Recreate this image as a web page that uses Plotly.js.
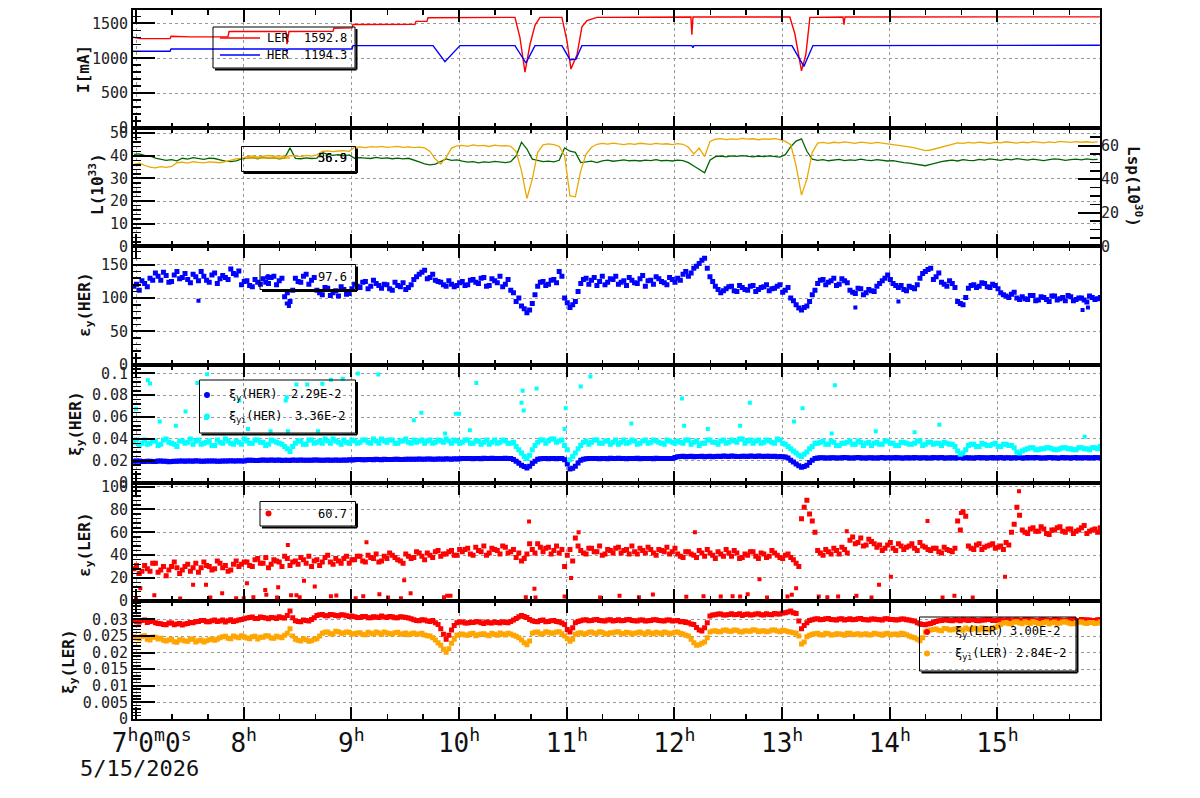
<!DOCTYPE html>
<html><head><meta charset="utf-8">
<script src="https://cdn.plot.ly/plotly-3.0.1.min.js"></script>
<style>html,body{margin:0;padding:0;background:#fff}#c{width:1200px;height:798px}</style>
</head><body><div id="c"></div>
<script>
// ---------------- DATA (time in hours of 5/15/2026) ----------------
const T0 = 6.98, DT = 0.05; // read-off grid: 3 min; "b" samples lie half a step later

// Panel 1: beam currents [mA] (keyframes)
const LER_t = [6.972,7.04,7.316,7.325,7.50,7.854,7.864,8.393,8.402,8.42,8.829,8.838,9.006,9.015,9.59,9.60,9.702,9.711,10.519,10.565,10.612,10.659,10.705,10.751,10.955,11.002,11.039,11.095,11.141,11.188,11.28,12.153,12.162,12.172,13.072,13.118,13.18,13.22,13.258,13.565,13.574,13.584,15.951];
const LER_v = [1300,1280,1280,1315,1305,1305,1382,1382,1200,1382,1385,1430,1435,1482,1485,1528,1530,1580,1585,1300,800,1200,1470,1585,1585,1250,845,1050,1450,1540,1585,1590,1335,1590,1590,1350,820,1050,1585,1590,1480,1590,1592];
const HER_t = [6.972,7.316,7.325,8.393,8.402,8.411,9.006,9.015,9.758,9.869,10.008,10.519,10.621,10.705,10.955,11.03,11.085,11.141,12.162,12.172,12.181,13.091,13.202,13.286,15.951];
const HER_v = [1100,1100,1133,1133,1100,1133,1133,1181,1181,950,1181,1181,932,1181,1181,979,985,1181,1181,1150,1181,1181,883,1181,1185];

// Panel 2: luminosity L (left axis) and Lsp (right axis)
const L_v = [40.6,40.8,40.2,39.9, 39.0,38.6,38.0,38.3,37.8,
 38.9,38.5,39.2,38.7,38.4,39.0,38.8,38.2,37.6,37.4,
 37.8,38.6,38.9,39.2,38.7,39.4,38.9,39.1,38.6,39.0,
 43.5, 38.9,38.7,39.1,38.8,39.0, 41.5, 40.6,40.2,40.5,40.0,40.4,
 38.9,39.2,39.0,38.8,39.3,38.9,39.1,38.7,39.0,38.6,38.9,
 38.2,37.3,36.4,36.0,36.3,37.4,
 38.6,38.0,38.2,37.6,37.2,37.4,36.9,37.3,37.1,37.5,37.2,37.0,37.4,
 40.0,46.0,43.0,38.5, 37.8,37.4,37.6,37.3, 38.0,43.5,42.0,41.5,37.0,
 37.2,37.6,37.0,37.8,38.1,37.6,37.9,38.2,37.8,38.0,37.7,38.1,37.9,38.3,37.8,38.0,37.7,38.1,37.9,
 37.0,35.5,34.0,32.5,38.0,
 39.6,39.9,39.5,40.0,39.7,40.1,39.8,39.5,39.9,39.6,40.0,39.7,39.4,
 40.5,44.0,46.5,47.5,42.0,38.5,
 38.0,38.3,37.8,38.1,38.4,37.9,38.2,38.0,38.5,38.1,37.9,38.3,38.0,37.7,37.9,37.4,
 37.0,36.8,36.5,36.0,35.6,36.2,36.9,37.4,37.8,38.1,
 37.7,38.3,38.0,37.9,38.4,38.1,38.6,38.3,38.0,38.5,38.2,38.7,38.4,38.1,38.5,38.2,37.9,38.3,38.6,38.4,38.0,38.3,38.5,38.2,38.6,38.3,38.4];
const Lsp_v = [48.8,49.5,48.3, 47.2,46.8,47.5,47.0,47.6,
 49.8,50.2,49.6,50.4,50.0,49.7,50.3,50.1,49.8,50.5,
 51.5,52.1,52.4,
 53.5,53.9,53.2,53.8,54.1,53.6,53.9,53.4,54.0,53.7,53.5,54.2,53.8,
 54.5,56.5,56.9,56.4,56.8,57.0,56.6,
 59.0,59.3,58.8,59.4,59.1,59.5,58.9,59.2,59.6,59.0,59.3,58.8,59.1,58.6,56.5,52.0,
 49.0,53.0,58.5,
 59.8,60.2,59.6,60.4,59.9,60.1,59.5,60.3,59.8,60.0,
 59.6,56.5,45.0,28.5,40.0,56.0, 60.5,61.0,60.6,
 59.5,54.0,30.0,29.5,45.0,55.0,59.0,
 60.8,61.3,60.9,61.5,61.0,60.6,61.2,60.8,61.4,61.0,60.7,61.3,60.9,61.1,60.6,61.2,60.8,
 59.0,55.0,58.5,53.5,62.5,
 63.8,64.2,63.6,64.0,63.7,64.3,63.9,64.1,63.5,64.0,63.8,64.2,63.6,
 62.5,60.5,48.0,30.5,40.0,56.0,
 61.5,61.9,61.3,62.0,61.6,62.2,61.8,61.4,62.1,61.7,61.3,61.9,61.5,61.0,60.6,60.3,
 60.0,59.3,58.6,57.8,57.0,57.4,58.3,59.2,60.2,61.0,
 61.6,61.3,61.9,61.5,62.1,61.7,61.4,62.0,61.6,62.3,61.8,61.5,62.1,61.7,62.4,62.0,61.6,62.2,61.8,62.5,62.1,61.9,62.4,62.0,62.3,61.9,62.2];

// Panel 3: vertical emittance HER
const epsH_a = [118,112,122, 130,138,127,134,125,140,131,128,136,126, 133,124,138,129,131, 144,135,
 120,126,117,124, 129,122,133,126, 102,95, 130,124,136,127, 112,105,115,108,103,113,107,
 121,116,125,118,122, 115,120,112,119,123,116, 128,136,142,131,127, 124,118,121,119, 125,120,
 128,122,131,119,126,133,121,112, 95,88,78,92, 118,125,121,128,140, 100,86,95,
 122,130,127,119,133,124,128,121,126,131,123,129,118,127,132,125,120,128,
 130,136,133,145,152,160, 132,118,108,
 114,118,110,116,112,119,113,117,111,115,120,112, 100,90,82,88,105,
 122,128,124,130,121,126, 112,107,114,108,111, 118,126,135,122, 116,113,118,114,
 130,140,145,132, 124,118,122, 95,90, 115,120,118,122,116,119, 108,103,106,100,
 102,98,104,97,101,95,103,99,96,102,98,100,94,101,99];
const epsH_b = [121,126,117, 127,133,139,124,135,129,137,123,132,140, 127,135,122,134,128, 137,141,
 125,119,128,121, 124,131,120,130, 108,112, 125,133,121,131, 108,116,104,111,117,106,114,
 118,124,114,127,119, 121,114,124,117,113,120, 132,139,129,136,125, 120,126,117,123, 119,127,
 124,130,118,129,123,117,128,108, 100,84,82,105, 124,119,127,123,133, 93,90,110,
 128,121,131,125,120,129,133,124,119,127,122,134,126,121,129,123,131,124,
 127,140,138,148,157,145, 125,113,111,
 117,111,119,113,118,110,116,120,114,118,109,116, 96,85,86,95,112,
 127,120,126,119,129,123, 109,115,105,113,110, 122,130,128,119, 119,111,116,120,
 137,143,128,138, 121,126,116, 92,101, 119,116,123,117,121,114, 105,101,109,98,
 99,104,96,102,98,103,97,101,104,96,100,97,103,98,101];
const epsHOut_t = [7.58,8.40,8.42,13.68,14.08,15.79,15.84];
const epsHOut_v = [96,92,88,86,95,82,86];

// Panel 4: beam-beam parameters HER
const xiH_a = [0.0195,0.0198,0.0193,0.0196,0.0194,0.0197,0.0195,0.0193,0.0196,
 0.0197,0.0199,0.0196,0.0198,0.0195,0.0199,0.0197,0.0196,0.0198,0.0200,0.0197,0.0199,
 0.0204,0.0206,0.0203,0.0207,0.0205,0.0204,0.0207,0.0206,0.0203,0.0205,0.0208,0.0206,0.0204,0.0207,0.0205,0.0208,0.0206,0.0204,0.0207,0.0209,
 0.0210,0.0212,0.0209,0.0211,0.0213,0.0210,0.0212,0.0211,0.0214,0.0212,0.0215,0.0213,0.0216,0.0214,0.0217,0.0215,0.0216,0.0218,0.0215,0.0217,
 0.0220,0.0222,0.0219,0.0221,0.0223,0.0220,0.0222,0.0221,0.0223,0.0220,
 0.0195,0.0160,0.0135,0.0175,
 0.0215,0.0221,0.0219,0.0222,0.0220,0.0210,
 0.0125,0.0150,
 0.0205,0.0218,0.0221,0.0220,0.0222,0.0219,0.0221,0.0223,0.0220,0.0222,0.0221,0.0219,0.0222,0.0220,0.0223,0.0221,0.0222,0.0220,
 0.0238,0.0241,0.0239,0.0236,0.0240,0.0238,0.0242,0.0240,0.0239,0.0241,0.0243,0.0240,0.0242,0.0239,0.0241,0.0243,0.0240,0.0242,0.0241,0.0239,0.0235,
 0.0205,0.0170,0.0142,0.0160,0.0205,
 0.0225,0.0228,0.0226,0.0227,0.0225,0.0229,0.0226,0.0228,0.0227,0.0225,
 0.0228,0.0226,0.0229,0.0227,0.0225,0.0228,0.0226,0.0227,0.0229,0.0226,
 0.0228,0.0225,0.0227,0.0229,0.0226,0.0228,0.0227,0.0225,0.0228,0.0226,
 0.0229,0.0227,0.0228,0.0226,0.0229,0.0227,0.0225,0.0228,0.0226,0.0229,
 0.0227,0.0228,0.0226,0.0229,0.0227,0.0225,0.0228,0.0226,0.0229,0.0227,
 0.0228,0.0226,0.0228];
const xiH_b = [0.0197,0.0194,0.0196,0.0193,0.0197,0.0195,0.0192,0.0196,0.0198,
 0.0195,0.0198,0.0200,0.0196,0.0199,0.0197,0.0195,0.0199,0.0197,0.0198,0.0201,0.0198,
 0.0205,0.0203,0.0206,0.0204,0.0207,0.0205,0.0203,0.0206,0.0208,0.0204,0.0206,0.0205,0.0207,0.0204,0.0206,0.0205,0.0208,0.0206,0.0205,0.0208,
 0.0211,0.0209,0.0212,0.0210,0.0211,0.0213,0.0211,0.0213,0.0212,0.0214,0.0213,0.0215,0.0214,0.0216,0.0215,0.0217,0.0215,0.0216,0.0218,0.0219,
 0.0221,0.0220,0.0222,0.0219,0.0221,0.0223,0.0220,0.0222,0.0221,0.0212,
 0.0178,0.0148,0.0150,0.0195,
 0.0219,0.0220,0.0222,0.0219,0.0221,0.0170,
 0.0132,0.0180,
 0.0214,0.0220,0.0222,0.0219,0.0221,0.0223,0.0220,0.0222,0.0219,0.0221,0.0223,0.0220,0.0222,0.0219,0.0221,0.0222,0.0220,0.0230,
 0.0240,0.0238,0.0241,0.0239,0.0242,0.0240,0.0238,0.0241,0.0243,0.0240,0.0242,0.0239,0.0241,0.0243,0.0240,0.0241,0.0242,0.0240,0.0238,0.0236,0.0225,
 0.0188,0.0155,0.0148,0.0185,0.0220,
 0.0227,0.0226,0.0228,0.0225,0.0227,0.0228,0.0226,0.0229,0.0225,0.0227,
 0.0226,0.0228,0.0225,0.0227,0.0229,0.0226,0.0228,0.0225,0.0227,0.0228,
 0.0226,0.0229,0.0227,0.0225,0.0228,0.0226,0.0229,0.0227,0.0225,0.0228,
 0.0227,0.0225,0.0229,0.0227,0.0226,0.0228,0.0227,0.0229,0.0225,0.0227,
 0.0229,0.0226,0.0228,0.0227,0.0225,0.0229,0.0227,0.0228,0.0226,0.0228,
 0.0227,0.0229,0.0227];
const xiiH_a = [0.037,0.034,0.039,0.036,0.038,0.035,0.040,0.036,0.033,0.038,0.037,0.035,0.039,0.036,0.038,0.034,0.037,0.040,0.036,0.038,0.035,
 0.038,0.036,0.039,0.037,0.035,0.038,0.036,0.033,
 0.0285,
 0.036,0.038,0.035,0.039,0.037,0.036,0.038,0.040,0.037,0.039,0.036,
 0.038,0.037,0.039,0.036,0.038,0.040,0.037,0.039,0.036,0.038,0.037,0.039,0.038,0.036,0.039,0.037,0.038,0.040,0.036,0.038,
 0.037,0.039,0.036,0.038,0.037,0.035,0.039,0.037,0.038,0.036,
 0.033,0.027,0.022,0.030,
 0.037,0.039,0.038,0.040,0.038,0.034,
 0.021,0.027,
 0.034,0.038,0.037,0.039,0.036,0.038,0.037,0.035,0.039,0.037,0.038,0.036,0.039,0.037,0.038,0.036,0.039,0.037,
 0.038,0.036,0.039,0.037,0.034,0.036,0.039,0.037,0.038,0.036,0.039,0.037,0.040,0.038,0.036,0.039,0.037,0.038,0.036,0.039,0.035,
 0.031,0.027,0.024,0.028,0.033,
 0.036,0.038,0.035,0.037,0.034,0.036,0.038,0.035,0.037,0.036,0.034,0.037,0.035,0.038,0.036,0.034,0.037,0.035,0.036,0.038,0.035,0.037,0.036,0.034,0.036,0.035,
 0.029,0.027,
 0.034,0.035,0.033,0.035,0.034,0.036,0.033,0.035,0.034,
 0.028,0.029,
 0.031,0.032,0.030,0.031,0.032,0.030,0.031,0.032,0.031,0.030,0.032,0.031,0.032,0.031];
const xiiH_b = [0.039,0.036,0.035,0.038,0.034,0.039,0.037,0.035,0.038,0.036,0.040,0.038,0.035,0.037,0.034,0.039,0.036,0.038,0.035,0.037,0.040,
 0.036,0.039,0.037,0.034,0.039,0.037,0.035,0.031,
 0.033,
 0.038,0.035,0.039,0.036,0.038,0.040,0.036,0.038,0.035,0.037,0.039,
 0.036,0.039,0.037,0.040,0.036,0.038,0.039,0.036,0.038,0.040,0.036,0.037,0.039,0.038,0.036,0.039,0.037,0.038,0.039,0.036,
 0.039,0.036,0.038,0.035,0.039,0.037,0.036,0.039,0.036,0.037,
 0.030,0.024,0.025,0.034,
 0.039,0.036,0.040,0.037,0.039,0.030,
 0.024,0.031,
 0.037,0.035,0.039,0.036,0.038,0.035,0.039,0.037,0.036,0.039,0.035,0.038,0.036,0.039,0.037,0.035,0.038,0.036,
 0.037,0.039,0.035,0.038,0.036,0.039,0.037,0.035,0.039,0.037,0.038,0.040,0.036,0.039,0.038,0.036,0.039,0.037,0.040,0.036,0.033,
 0.029,0.025,0.026,0.031,0.036,
 0.037,0.035,0.038,0.034,0.036,0.037,0.035,0.038,0.034,0.037,0.036,0.035,0.038,0.036,0.034,0.037,0.036,0.035,0.038,0.034,0.037,0.035,0.036,0.037,0.035,0.033,
 0.026,0.030,
 0.035,0.033,0.036,0.034,0.035,0.033,0.035,0.034,0.032,
 0.027,0.030,
 0.032,0.030,0.031,0.032,0.031,0.030,0.032,0.031,0.030,0.032,0.031,0.030,0.032,0.033];
const xiiHOut_t = [7.0,7.11,7.13,7.22,7.37,7.46,7.57,7.65,7.66,7.96,8.04,8.25,8.39,8.40,8.41,8.49,8.59,8.69,8.73,8.81,8.92,9.06,9.25,9.58,9.65,9.87,9.97,10.0,10.1,10.16,10.58,10.59,10.6,10.72,10.98,10.99,11.13,11.22,11.6,12.07,12.09,12.31,12.61,12.7,13.11,13.19,13.46,13.49,13.87,14.23,14.46,15.81];
const xiiHOut_v = [0.0676,0.0936,0.0906,0.056,0.052,0.065,0.091,0.059,0.099,0.075,0.049,0.047,0.075,0.078,0.047,0.0897,0.0897,0.047,0.0903,0.094,0.095,0.0997,0.0988,0.057,0.064,0.045,0.063,0.063,0.048,0.091,0.073,0.084,0.066,0.086,0.049,0.068,0.088,0.097,0.054,0.077,0.052,0.049,0.052,0.073,0.056,0.068,0.045,0.089,0.047,0.046,0.053,0.042];

// Panel 5: vertical emittance LER
const epsL_a = [28,24,31,26,33,27,22,30,29,
 27,32,29,25,34,30,28,33,31,27,35,32,
 34,30,37,33,29,36,34,39,31,35,38,33,30,36,34,40,32,35,37,33,
 36,39,34,38,41,35,37,40,36,33,39,38,42,36,40,43,39,41,44,40,
 43,46,40,44,48,42,45,41,47,43,
 38,35,41, 45,50,43,47,44,42, 30,45,55,
 44,41,46,43,40,45,42,47,44,41,43,46,42,45,40,44,47,43,
 41,38,43,40,44,39,42,37,41,45,39,42,38,40,43,37,41,39,42,38,40,
 38,33, 72,88,70, 44,40,43,46,41,45, 53,50,55,49,52,
 47,44,49,46,50,45,48,46,51,47, 44,46,42,45,43, 70,78,
 48,45,50,47,49,46,48,51, 60,82,
 62,59,64,61,63,58,62,65,60,63,61,64,59,62,60];
const epsL_b = [31,26,28,33,25,30,27,34,24,
 30,26,33,29,31,27,35,29,26,32,30,34,
 31,36,33,38,32,35,30,37,34,32,36,39,35,31,38,34,37,33,39,36,
 39,35,40,37,34,39,42,38,35,41,37,43,39,42,38,44,41,43,40,45,
 45,41,47,43,40,46,44,48,42,45,
 42,37,50, 42,47,46,41,48,45, 40,35,48,
 42,46,43,48,41,44,46,42,45,48,41,44,47,42,45,43,41,46,
 39,43,41,38,42,45,40,43,39,42,44,37,41,43,39,42,38,44,40,37,41,
 36,30, 82,76,60, 42,45,41,44,47,42, 56,51,48,54,50,
 49,46,51,44,48,47,50,44,48,45, 46,43,47,44,46, 62,74,
 46,49,45,48,50,47,45,49, 67,75,
 60,63,61,65,59,62,64,61,63,59,62,66,61,63,64];
const epsLOut_t = [7.0,7.04,7.17,7.41,7.53,7.65,7.69,7.8,7.93,8.0,8.03,8.09,8.2,8.21,8.31,8.32,8.41,8.44,8.49,8.52,8.56,8.66,8.81,8.86,9.04,9.11,9.14,9.26,9.34,9.46,9.49,9.55,9.86,9.89,9.92,10.62,10.65,10.7,10.71,10.98,11.04,11.11,11.31,11.49,11.67,11.8,12.11,12.19,12.27,12.43,12.54,12.61,12.68,12.79,12.86,13.05,13.09,13.13,13.34,13.42,13.52,13.6,13.69,13.83,13.9,14.01,14.35,14.49,14.6,14.66,14.77,15.07,15.2];
const epsLOut_v = [2.3,11,5,2,14,14,3,6.7,2.3,2.3,15.5,3.2,9.6,5.3,3,12,49,5,5,3.2,17.5,12.6,4,4.7,2.3,4,51.4,5.8,3,2.3,18,6.7,3.2,4.4,4.4,3.2,69.5,10.5,3,3.8,20,60,3,4.4,3.2,5.5,3.5,60,4,3.8,4,3.8,5.8,19,3,3.8,5.3,11,3.8,3.2,3.8,61,4.4,3,14,21,70,3,4.4,77,3,21,96];

// Panel 6: beam-beam parameters LER
const xiL_a = [0.0296,0.0292,0.0298,0.0294,0.0290,
 0.0287,0.0284,0.0289,0.0286,0.0283,0.0288,0.0290,
 0.0294,0.0297,0.0293,0.0298,0.0295,0.0292,0.0299,0.0296,0.0300,
 0.0304,0.0307,0.0303,0.0306,0.0302,0.0305,0.0308,0.0304,
 0.0325,
 0.0296,0.0293,0.0297,0.0300,
 0.0312,0.0315,0.0311,0.0314,0.0310,0.0313,0.0309,
 0.0308,0.0306,0.0309,0.0305,0.0307,0.0310,0.0306,0.0308,0.0305,0.0307,0.0304,
 0.0299,0.0296,0.0298,0.0294,0.0290,
 0.0272,0.0240,0.0268,
 0.0290,0.0292,0.0289,0.0291,0.0293,0.0288,0.0290,0.0292,0.0289,0.0291,0.0294,
 0.0303,0.0312,0.0306,
 0.0296,0.0293,0.0298,0.0294,0.0297,0.0292,0.0285,
 0.0262,
 0.0290,0.0296,0.0299,0.0297,0.0300,0.0296,0.0298,0.0295,0.0299,0.0297,0.0300,0.0296,0.0298,0.0295,0.0297,0.0299,0.0296,0.0298,0.0295,0.0297,0.0294,0.0290,0.0285,
 0.0268,0.0275,
 0.0310,0.0314,0.0316,0.0313,0.0317,0.0315,0.0312,0.0316,0.0314,0.0317,0.0313,0.0315,0.0318,0.0316,0.0320,
 0.0325,0.0318,
 0.0272,
 0.0290,0.0299,0.0302,0.0300,0.0303,0.0299,0.0301,0.0298,0.0302,0.0300,0.0303,0.0299,0.0301,0.0300,0.0298,0.0302,0.0300,0.0299,0.0301,0.0298,0.0295,
 0.0287,0.0284,0.0288,
 0.0294,0.0297,0.0299,0.0296,0.0298,0.0300,0.0297,0.0299,0.0296,0.0298,0.0300,0.0297,0.0299,0.0298,0.0296,0.0299,0.0297,0.0300,0.0298,0.0296,0.0299,0.0297,0.0300,0.0298,0.0296,0.0299,0.0297,0.0300,0.0298,0.0296,0.0299];
const xiL_b = [0.0293,0.0297,0.0291,0.0295,0.0288,
 0.0285,0.0289,0.0284,0.0288,0.0286,0.0291,0.0293,
 0.0297,0.0293,0.0296,0.0294,0.0298,0.0296,0.0294,0.0298,0.0302,
 0.0306,0.0303,0.0307,0.0304,0.0306,0.0303,0.0305,0.0312,
 0.0305,
 0.0294,0.0298,0.0295,0.0305,
 0.0314,0.0311,0.0315,0.0312,0.0314,0.0311,0.0310,
 0.0306,0.0309,0.0305,0.0308,0.0306,0.0307,0.0309,0.0305,0.0308,0.0306,0.0302,
 0.0297,0.0299,0.0295,0.0297,0.0285,
 0.0255,0.0252,0.0282,
 0.0292,0.0289,0.0291,0.0293,0.0290,0.0292,0.0289,0.0291,0.0293,0.0290,0.0298,
 0.0308,0.0309,0.0300,
 0.0294,0.0297,0.0293,0.0296,0.0294,0.0289,0.0270,
 0.0275,
 0.0294,0.0298,0.0296,0.0299,0.0297,0.0295,0.0299,0.0297,0.0296,0.0299,0.0297,0.0295,0.0298,0.0296,0.0299,0.0297,0.0295,0.0298,0.0296,0.0293,0.0291,0.0286,0.0276,
 0.0265,0.0290,
 0.0313,0.0316,0.0313,0.0315,0.0314,0.0317,0.0315,0.0313,0.0316,0.0314,0.0317,0.0314,0.0316,0.0319,0.0322,
 0.0320,0.0295,
 0.0282,
 0.0297,0.0301,0.0299,0.0302,0.0300,0.0298,0.0302,0.0300,0.0299,0.0302,0.0300,0.0298,0.0301,0.0299,0.0302,0.0300,0.0298,0.0301,0.0299,0.0296,0.0290,
 0.0285,0.0286,0.0291,
 0.0296,0.0298,0.0297,0.0299,0.0296,0.0298,0.0299,0.0297,0.0298,0.0300,0.0297,0.0298,0.0296,0.0299,0.0298,0.0297,0.0300,0.0298,0.0296,0.0299,0.0298,0.0297,0.0299,0.0296,0.0298,0.0300,0.0297,0.0299,0.0298,0.0297,0.0300];
const xiiL_a = [0.0248,0.0242,0.0251,0.0238,0.0246,0.0243,
 0.0235,0.0240,0.0231,0.0238,0.0234,0.0241,0.0236,0.0232,0.0239,0.0237,
 0.0245,0.0249,0.0242,0.0247,0.0251,0.0244,0.0248,0.0241,0.0246,0.0250,0.0243,0.0247,0.0252,
 0.0272,
 0.0240,0.0235,0.0239,0.0236,0.0242,
 0.0258,0.0262,0.0256,0.0263,0.0259,0.0261,
 0.0257,0.0260,0.0254,0.0258,0.0262,0.0255,0.0259,0.0256,0.0261,0.0257,0.0254,0.0259,0.0256,0.0253,
 0.0250,0.0238,0.0222,0.0201,0.0228,0.0252,
 0.0256,0.0252,0.0258,0.0254,0.0257,0.0251,0.0255,0.0259,0.0253,0.0256,
 0.0249,0.0238,0.0224,
 0.0258,0.0262,0.0257,0.0261,0.0259,0.0263,0.0250,
 0.0234,
 0.0255,0.0260,0.0257,0.0262,0.0258,0.0261,0.0256,0.0259,0.0263,0.0257,0.0260,0.0258,0.0262,0.0256,0.0259,0.0261,0.0257,0.0260,0.0258,0.0262,0.0256,0.0250,
 0.0230,0.0224,0.0232,
 0.0262,0.0266,0.0263,0.0268,0.0264,0.0267,0.0262,0.0265,0.0269,0.0263,0.0266,0.0264,0.0268,0.0263,0.0266,0.0262,0.0258,
 0.0226,
 0.0248,0.0255,0.0258,0.0253,0.0257,0.0254,0.0256,0.0252,0.0258,0.0255,0.0253,0.0257,0.0254,0.0256,0.0252,0.0258,0.0255,0.0253,0.0257,0.0250,0.0245,
 0.0236,
 0.0262,0.0268,0.0271,0.0266,0.0272,0.0269,0.0273,0.0267,0.0271,0.0274,0.0268,0.0272,0.0270,0.0276,
 0.0285,0.0291,0.0288,0.0293,0.0287,0.0290,0.0294,0.0288,0.0291,0.0286,0.0292,0.0289,0.0293,0.0287,0.0290,0.0292,0.0288,0.0291,0.0289];
const xiiL_b = [0.0244,0.0249,0.0240,0.0247,0.0241,0.0237,
 0.0238,0.0233,0.0239,0.0235,0.0240,0.0232,0.0238,0.0236,0.0241,0.0240,
 0.0248,0.0243,0.0250,0.0245,0.0248,0.0242,0.0249,0.0246,0.0251,0.0244,0.0249,0.0245,0.0258,
 0.0250,
 0.0237,0.0242,0.0234,0.0240,0.0250,
 0.0261,0.0257,0.0264,0.0258,0.0262,0.0256,
 0.0259,0.0255,0.0261,0.0256,0.0259,0.0262,0.0257,0.0260,0.0255,0.0259,0.0257,0.0255,0.0258,0.0251,
 0.0245,0.0230,0.0210,0.0212,0.0240,0.0254,
 0.0253,0.0257,0.0251,0.0256,0.0253,0.0258,0.0252,0.0256,0.0258,0.0252,
 0.0245,0.0230,0.0235,
 0.0261,0.0256,0.0263,0.0258,0.0262,0.0257,0.0242,
 0.0240,
 0.0258,0.0256,0.0261,0.0258,0.0263,0.0257,0.0260,0.0262,0.0258,0.0261,0.0256,0.0260,0.0258,0.0263,0.0257,0.0259,0.0262,0.0256,0.0261,0.0258,0.0252,0.0240,
 0.0222,0.0228,0.0245,
 0.0265,0.0263,0.0267,0.0264,0.0268,0.0263,0.0266,0.0264,0.0267,0.0265,0.0263,0.0268,0.0265,0.0267,0.0263,0.0260,0.0250,
 0.0232,
 0.0252,0.0257,0.0254,0.0258,0.0253,0.0257,0.0255,0.0258,0.0254,0.0257,0.0255,0.0253,0.0258,0.0255,0.0257,0.0253,0.0256,0.0258,0.0254,0.0247,0.0240,
 0.0245,
 0.0266,0.0270,0.0267,0.0273,0.0268,0.0271,0.0269,0.0274,0.0270,0.0272,0.0275,0.0269,0.0274,0.0280,
 0.0289,0.0287,0.0292,0.0289,0.0293,0.0288,0.0291,0.0287,0.0293,0.0290,0.0288,0.0292,0.0290,0.0287,0.0292,0.0289,0.0291,0.0288,0.0292];

// Axis tick labels
const hourTicks = [7,8,9,10,11,12,13,14,15];
const hourText = ['\u00a0\u00a07<sup>h</sup>0<sup>m</sup>0<sup>s</sup>','8<sup>h</sup>','9<sup>h</sup>','10<sup>h</sup>','11<sup>h</sup>','12<sup>h</sup>','13<sup>h</sup>','14<sup>h</sup>','15<sup>h</sup>'];
const dateLabel = '5/15/2026';

// ---------------- RENDERING ----------------
const MONO = "'DejaVu Sans Mono', monospace";
const gridA = a => a.map((_, i) => T0 + i * DT);
const gridB = a => a.map((_, i) => T0 + DT / 2 + i * DT);
const Lp = 133, Rp = 1100, Tp = 10, Bp = 719;
const px = x => (x - Lp) / (Rp - Lp);
const py = y => (Bp - y) / (Bp - Tp);

const line = (x, y, xa, ya, color, w) => ({x, y, xaxis: xa, yaxis: ya, type: 'scatter', mode: 'lines', line: {color, width: w}, hoverinfo: 'skip'});
const dots = (x, y, xa, ya, color, s) => ({x, y, xaxis: xa, yaxis: ya, type: 'scatter', mode: 'markers', marker: {color, size: s || 4, symbol: 'square', line: {width: 0}}, hoverinfo: 'skip'});
const band = (a, b, xa, ya, color, s) => [dots(gridA(a), a, xa, ya, color, s), dots(gridB(b), b, xa, ya, color, s)];

const traces = [
  line(LER_t, LER_v, 'x', 'y', '#ff0000', 1.4),
  line(HER_t, HER_v, 'x', 'y', '#0000ff', 1.4),
  line(gridA(Lsp_v), Lsp_v, 'x2', 'y7', '#eba800', 1.3),
  line(gridA(L_v), L_v, 'x2', 'y2', '#006400', 1.3),
  ...band(epsH_a, epsH_b, 'x3', 'y3', '#0000ff', 5),
  dots(epsHOut_t, epsHOut_v, 'x3', 'y3', '#0000ff', 4),
  ...band(xiH_a, xiH_b, 'x4', 'y4', '#0000ff', 5),
  ...band(xiiH_a, xiiH_b, 'x4', 'y4', '#00ffff', 5),
  dots(xiiHOut_t, xiiHOut_v, 'x4', 'y4', '#00ffff', 4),
  ...band(epsL_a, epsL_b, 'x5', 'y5', '#ff0000', 5),
  dots(epsLOut_t, epsLOut_v, 'x5', 'y5', '#ff0000', 4),
  ...band(xiL_a, xiL_b, 'x6', 'y6', '#ff0000', 5),
  ...band(xiiL_a, xiiL_b, 'x6', 'y6', '#ffa500', 5)
];

const tickFont = {family: MONO, size: 15, color: '#222'};
function xax(i) {
  return {
    domain: [0, 1], anchor: i === 1 ? 'y' : 'y' + i, range: [6.972, 15.952],
    tickmode: 'array', tickvals: hourTicks, ticktext: hourText,
    showticklabels: i === 6, tickfont: {family: MONO, size: 26, color: '#111'},
    ticks: 'inside', ticklen: 12, tickwidth: 2, tickcolor: '#000',
    showline: true, linewidth: 2, linecolor: '#000', mirror: 'ticks',
    showgrid: true, gridcolor: '#9a9a9a', gridwidth: 1, griddash: '3px,3px', zeroline: false,
    minor: {tickmode: 'linear', tick0: 7, dtick: 1 / 3, ticks: 'inside', ticklen: 5, tickwidth: 1.5, tickcolor: '#000', showgrid: false}
  };
}
function yax(i, range, vals, mdt) {
  return {
    domain: [1 - i / 6, 1 - (i - 1) / 6], anchor: i === 1 ? 'x' : 'x' + i, range,
    tickmode: 'array', tickvals: vals, tickfont: tickFont,
    ticks: 'inside', ticklen: 22, tickwidth: 2, tickcolor: '#000',
    showline: true, linewidth: 2, linecolor: '#000', mirror: true,
    showgrid: true, gridcolor: '#9a9a9a', gridwidth: 1, griddash: '3px,3px', zeroline: false,
    minor: {dtick: mdt, tick0: 0, ticks: 'inside', ticklen: 8, tickwidth: 1.5, tickcolor: '#000', showgrid: false}
  };
}

const layout = {
  width: 1200, height: 798, margin: {l: Lp, r: 1200 - Rp, t: Tp, b: 798 - Bp},
  paper_bgcolor: '#fff', plot_bgcolor: '#fff', showlegend: false,
  font: {family: MONO},
  xaxis: xax(1), xaxis2: xax(2), xaxis3: xax(3), xaxis4: xax(4), xaxis5: xax(5), xaxis6: xax(6),
  yaxis: yax(1, [0, 1690], [0, 500, 1000, 1500], 100),
  yaxis2: yax(2, [0, 52.2], [0, 10, 20, 30, 40, 50], 2),
  yaxis3: yax(3, [0, 178], [0, 50, 100, 150], 10),
  yaxis4: yax(4, [0, 0.108], [0, 0.02, 0.04, 0.06, 0.08, 0.1], 0.004),
  yaxis5: yax(5, [0, 103.5], [0, 20, 40, 60, 80, 100], 4),
  yaxis6: yax(6, [0, 0.0356], [0, 0.005, 0.01, 0.015, 0.02, 0.025, 0.03], 0.001),
  yaxis7: {
    overlaying: 'y2', side: 'right', anchor: 'x2', range: [0, 70.4],
    tickmode: 'array', tickvals: [0, 20, 40, 60], tickfont: tickFont,
    ticks: 'inside', ticklen: 22, tickwidth: 2, tickcolor: '#000',
    showline: false, showgrid: false, zeroline: false,
    minor: {dtick: 5, tick0: 0, ticks: 'inside', ticklen: 10, tickwidth: 1.5, tickcolor: '#000', showgrid: false}
  },
  shapes: [], annotations: []
};

const S = layout.shapes, A = layout.annotations;
function txt(t, x, y, o) {
  A.push(Object.assign({text: t, x: px(x), y: py(y), xref: 'paper', yref: 'paper', showarrow: false,
    xanchor: 'center', yanchor: 'middle', font: {family: MONO, size: 12, color: '#000'}}, o || {}));
}
function box(x0, y0, x1, y1) {
  S.push({type: 'rect', xref: 'paper', yref: 'paper', x0: px(x0), x1: px(x1), y0: py(y1), y1: py(y0), line: {color: '#000', width: 1}, fillcolor: 'rgba(0,0,0,0)'});
  S.push({type: 'line', xref: 'paper', yref: 'paper', x0: px(x0 + 2), x1: px(x1 + 1.5), y0: py(y1 + 1.5), y1: py(y1 + 1.5), line: {color: '#000', width: 2}});
  S.push({type: 'line', xref: 'paper', yref: 'paper', x0: px(x1 + 1.5), x1: px(x1 + 1.5), y0: py(y0 + 2), y1: py(y1 + 1.5), line: {color: '#000', width: 2}});
}
function seg(x0, x1, y, color) {
  S.push({type: 'line', xref: 'paper', yref: 'paper', x0: px(x0), x1: px(x1), y0: py(y), y1: py(y), line: {color, width: 1.5}});
}
function dot(cx, cy, color) {
  S.push({type: 'circle', xref: 'paper', yref: 'paper', x0: px(cx - 3), x1: px(cx + 3), y0: py(cy + 3), y1: py(cy - 3), fillcolor: color, line: {width: 0}});
}

// axis titles
const tf = s => ({family: MONO, size: s || 16, color: '#111'});
txt('<b>I[mA]</b>', 84, 69, {textangle: -90, font: tf()});
txt('<b>L(10<sup>33</sup>)</b>', 97, 184, {textangle: -90, font: tf()});
txt('<b>ε<sub>y</sub>(HER)</b>', 85, 305, {textangle: -90, font: tf()});
txt('<b>ξ<sub>y</sub>(HER)</b>', 76, 424, {textangle: -90, font: tf()});
txt('<b>ε<sub>y</sub>(LER)</b>', 85, 545, {textangle: -90, font: tf()});
txt('<b>ξ<sub>y</sub>(LER)</b>', 69, 662, {textangle: -90, font: tf()});
txt('<b>Lsp(10<sup>30</sup>)</b>', 1134, 186, {textangle: 90, font: tf()});
txt(dateLabel, 78, 768, {xanchor: 'left', font: {family: MONO, size: 22, color: '#111'}});

// legends
box(213, 27, 355, 68);
seg(220, 260, 38, '#ff0000'); seg(220, 260, 55, '#0000ff');
txt('LER', 265, 38, {xanchor: 'left'}); txt('1592.8', 349, 38, {xanchor: 'right'});
txt('HER', 265, 55, {xanchor: 'left'}); txt('1194.3', 349, 55, {xanchor: 'right'});

box(241.5, 146.5, 355.5, 171.5);
seg(245, 290, 158, '#eba800');
txt('36.9', 349, 158, {xanchor: 'right'}); txt('56.9', 349, 158, {xanchor: 'right'});

box(260, 264.5, 355.5, 289.5);
dot(268, 277, '#0000ff');
txt('97.6', 349, 277, {xanchor: 'right'});

box(199.5, 380, 355.5, 433);
dot(207, 395, '#0000ff'); dot(207, 416.5, '#00ffff');
txt('ξ<sub>y</sub>(HER)', 227, 395, {xanchor: 'left'}); txt('2.29E-2', 344, 394, {xanchor: 'right'});
txt('ξ<sub>yi</sub>(HER)', 227, 417, {xanchor: 'left'}); txt('3.36E-2', 348, 416, {xanchor: 'right'});

box(260, 501.5, 355.5, 526);
dot(268.5, 513.5, '#ff0000');
txt('60.7', 349, 513.5, {xanchor: 'right'});

box(919.5, 617, 1076, 671);
dot(927, 632, '#ff0000'); dot(927, 653.5, '#ffa500');
txt('ξ<sub>y</sub>(LER)', 953, 632, {xanchor: 'left'}); txt('3.00E-2', 1063, 631, {xanchor: 'right'});
txt('ξ<sub>yi</sub>(LER)', 953, 654, {xanchor: 'left'}); txt('2.84E-2', 1069, 653, {xanchor: 'right'});

Plotly.newPlot('c', traces, layout, {displayModeBar: false, staticPlot: true});
</script></body></html>
